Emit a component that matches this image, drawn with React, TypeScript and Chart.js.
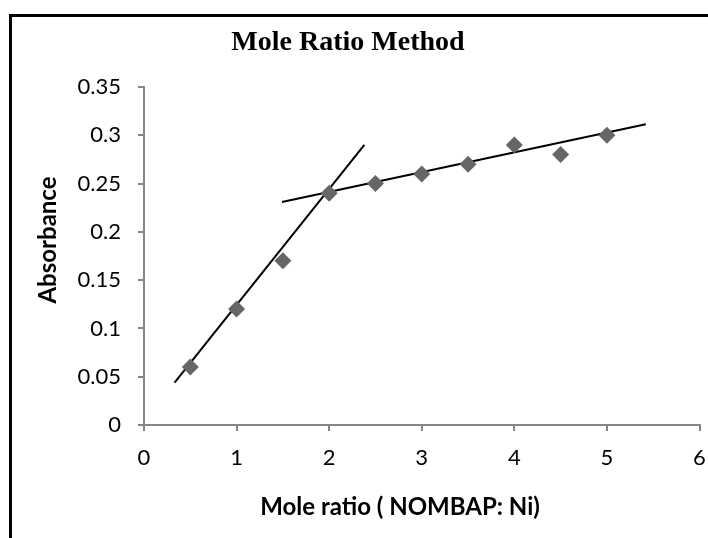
import React, { useEffect, useRef } from "react";
import { Chart, registerables } from "chart.js";

Chart.register(...registerables);

const TITLE = "Mole Ratio Method";
const X_TITLE = "Mole ratio ( NOMBAP: Ni)";
const Y_TITLE = "Absorbance";

const moleRatio = [0.5, 1, 1.5, 2, 2.5, 3, 3.5, 4, 4.5, 5];
const absorbance = [0.06, 0.12, 0.17, 0.24, 0.25, 0.26, 0.27, 0.29, 0.28, 0.3];

const line1X = [0.33, 2.38];
const line1Y = [0.044, 0.29];
const line2X = [1.49, 5.42];
const line2Y = [0.231, 0.3115];

const X_MIN = 0, X_MAX = 6, X_STEP = 1;
const Y_MIN = 0, Y_MAX = 0.35, Y_STEP = 0.05;

const TICK_FONT = "Lato";

export default function App() {
  const ref = useRef<HTMLCanvasElement | null>(null);

  useEffect(() => {
    if (!ref.current) return;
    const framePlugin = {
      id: "frame",
      beforeDraw(chart: any) {
        const ctx = chart.ctx;
        ctx.save();
        ctx.fillStyle = "#ffffff";
        ctx.fillRect(0, 0, chart.width, chart.height);
        ctx.fillStyle = "#000000";
        ctx.fillRect(9, 14, chart.width - 9, 3);
        ctx.fillRect(9, 14, 3, chart.height - 14);
        ctx.restore();
      },
      afterDraw(chart: any) {
        const ctx = chart.ctx;
        ctx.save();
        ctx.fillStyle = "#000000";
        ctx.textAlign = "center";
        ctx.textBaseline = "middle";
        ctx.font = "bold 28px 'Liberation Serif'";
        ctx.fillText(TITLE, 348, 43);
        ctx.font = `bold 24px ${TICK_FONT}`;
        ctx.fillText(X_TITLE, 400, 507);
        ctx.translate(48, 240);
        ctx.rotate(-Math.PI / 2);
        ctx.fillText(Y_TITLE, 0, 0);
        ctx.restore();
      },
    };

    const chart = new Chart(ref.current, {
      type: "scatter",
      data: {
        datasets: [
          {
            data: moleRatio.map((x, i) => ({ x, y: absorbance[i] })),
            pointStyle: "rectRot",
            pointRadius: 8.5,
            pointBackgroundColor: "#666666",
            pointBorderColor: "#666666",
            pointBorderWidth: 0,
            showLine: false,
          },
          {
            data: line1X.map((x, i) => ({ x, y: line1Y[i] })),
            showLine: true,
            borderColor: "#000000",
            borderWidth: 2,
            pointRadius: 0,
          },
          {
            data: line2X.map((x, i) => ({ x, y: line2Y[i] })),
            showLine: true,
            borderColor: "#000000",
            borderWidth: 2,
            pointRadius: 0,
          },
        ],
      },
      options: {
        animation: false,
        responsive: false,
        maintainAspectRatio: false,
        layout: { padding: { left: 0, right: 0, top: 87, bottom: 0 } },
        plugins: { legend: { display: false }, tooltip: { enabled: false }, title: { display: false } },
        scales: {
          x: {
            type: "linear",
            min: X_MIN,
            max: X_MAX,
            afterFit(scale: any) {
              scale.height = 113;
              scale.paddingRight = 0;
              scale.paddingLeft = 0;
            },
            ticks: {
              stepSize: X_STEP,
              color: "#000000",
              padding: 14,
              font: { family: TICK_FONT, size: 22 },
            },
            grid: {
              drawOnChartArea: false,
              drawTicks: true,
              tickLength: 6,
              color: "#868686",
              lineWidth: 2,
            },
            border: { color: "#868686", width: 2 },
          },
          y: {
            type: "linear",
            min: Y_MIN,
            max: Y_MAX,
            afterFit(scale: any) {
              scale.width = 144;
              scale.paddingTop = 0;
              scale.paddingBottom = 0;
            },
            ticks: {
              stepSize: Y_STEP,
              color: "#000000",
              padding: 17,
              font: { family: TICK_FONT, size: 22 },
              callback: (v: any) => String(Math.round(Number(v) * 100) / 100),
            },
            grid: {
              drawOnChartArea: false,
              drawTicks: true,
              tickLength: 6,
              color: "#868686",
              lineWidth: 2,
            },
            border: { color: "#868686", width: 2 },
          },
        },
      },
      plugins: [framePlugin],
    });
    return () => chart.destroy();
  }, []);

  return (
    <div style={{ position: "fixed", left: 0, top: 0, width: 708, height: 538, background: "#fff" }}>
      <canvas ref={ref} width={708} height={538} style={{ width: 708, height: 538, display: "block" }} />
    </div>
  );
}
